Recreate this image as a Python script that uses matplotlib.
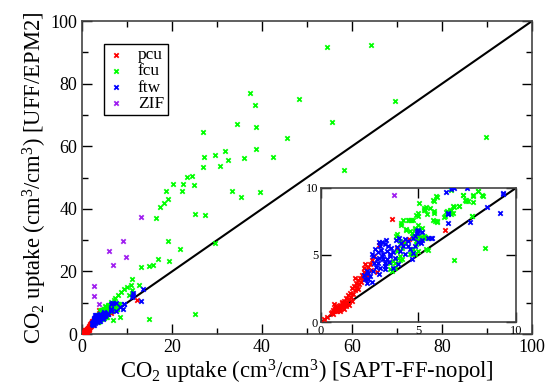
import numpy as np
import matplotlib
matplotlib.use("Agg")
import matplotlib.pyplot as plt
from matplotlib.ticker import MultipleLocator

plt.rcParams['font.family'] = ['Liberation Serif', 'DejaVu Serif']
plt.rcParams['mathtext.fontset'] = 'custom'
plt.rcParams['mathtext.rm'] = 'Liberation Serif'
plt.rcParams['mathtext.default'] = 'regular'

# pcu (red)
pcu_x = [0.5, 0.55, 0.6, 0.65, 0.7, 0.75, 0.8, 0.85, 0.9, 0.95, 1.0, 1.05, 1.1, 0.7, 0.9,
         1.15, 1.2, 1.25, 1.3, 1.35, 1.4, 1.45, 1.5, 1.55, 1.6, 1.65, 1.7, 1.75, 1.8, 1.85,
         1.9, 1.95, 2.0, 2.05, 2.1, 2.15, 2.2, 2.25, 2.3, 2.35, 2.4, 2.5, 2.6, 2.7, 2.55,
         1.45, 1.6, 1.2, 1.9, 2.85, 2.99, 3.66, 1.0, 0.6, 6.36, 12.2, 4.5, 3.9, 4.2,
         0.8, 1.1, 1.3, 0.65, 1.75, 2.2, 0.3, 0.15]
pcu_y = [0.65, 0.75, 0.9, 0.8, 1.0, 0.85, 1.1, 0.95, 1.2, 1.0, 1.3, 1.1, 1.4, 1.2, 0.9,
         1.2, 1.6, 1.35, 1.8, 1.5, 2.0, 1.7, 2.2, 1.9, 2.5, 2.1, 2.7, 2.4, 2.9, 2.6,
         3.1, 2.8, 3.3, 3.0, 3.5, 3.2, 3.7, 4.3, 3.9, 3.5, 4.1, 4.3, 4.6, 4.9, 3.9,
         1.25, 1.6, 1.0, 2.45, 3.75, 5.77, 7.7, 0.8, 0.6, 6.84, 11.0, 6.2, 5.5, 6.0,
         0.8, 1.5, 1.2, 1.35, 3.3, 4.0, 0.4, 0.2]

# fcu (green)
fcu_x = [54.5, 64.2, 37.4, 48.2, 38.4, 69.6, 34.4, 38.6, 55.5, 26.8, 45.6, 38.7, 31.8, 29.6,
         27.0, 36.1, 42.4, 32.4, 30.7, 26.9, 89.7, 58.3, 24.4, 23.3, 20.2, 22.4, 24.8, 18.7,
         22.2, 33.3, 39.5, 35.3, 19.0, 18.2, 17.3, 25.1, 27.3, 16.5, 19.0, 29.5, 21.8, 16.9,
         19.3, 13.1, 14.8, 15.7, 11.1, 12.7, 10.9, 25.0, 14.8, 10.1, 9.4, 8.7, 8.1, 7.3,
         7.0, 6.5, 10.5, 11.0,
         5.03, 5.28, 5.33, 5.57, 5.44, 5.79, 4.95, 5.79, 5.93, 6.36, 6.29, 6.46, 6.63, 6.8,
         6.77, 6.67, 7.09, 7.3, 7.81, 8.07, 8.29, 7.42, 7.52, 7.81, 7.76, 5.85, 5.93, 4.99,
         5.19, 4.99, 5.19, 5.33, 4.82, 4.9, 4.96, 4.87, 5.47, 8.41, 6.84, 4.85, 4.7, 4.6,
         4.48, 4.1, 4.34, 3.86, 4.82, 4.65, 4.74, 4.91, 4.14, 4.31, 4.65, 3.54, 3.71, 3.79,
         3.97, 4.14, 4.05, 3.62, 3.79, 3.54, 4.65, 4.82, 4.96, 5.92, 6.68, 7.28, 7.79, 8.04,
         8.27, 7.45, 7.37, 7.74, 7.07, 6.77, 6.68, 6.43, 5.75, 5.41, 5.27, 4.98, 5.78, 5.75,
         5.95, 4.08, 4.2, 4.52, 4.64, 4.81, 5.07, 4.59, 4.35, 3.88, 4.05, 3.88, 4.05, 4.56,
         4.73, 5.41, 4.93, 5.27, 5.15, 5.37]
fcu_y = [91.6, 92.4, 77.0, 75.1, 73.2, 74.5, 67.2, 66.1, 67.6, 64.6, 62.7, 59.1, 58.5, 57.1,
         56.5, 56.2, 56.7, 55.5, 53.8, 53.4, 63.0, 52.4, 50.6, 50.3, 47.9, 48.0, 47.7, 45.7,
         45.7, 45.8, 45.4, 43.9, 43.1, 41.9, 40.7, 38.4, 37.9, 37.2, 29.8, 29.0, 27.1, 23.9,
         23.4, 21.5, 21.8, 22.1, 17.7, 15.8, 15.6, 6.4, 4.9, 15.1, 14.3, 13.5, 12.5, 11.6,
         10.9, 10.3, 12.5, 14.0,
         8.88, 8.5, 8.33, 8.48, 8.06, 8.13, 7.9, 9.05, 9.33, 7.93, 7.81, 8.26, 8.38, 8.56,
         8.13, 8.06, 8.68, 9.48, 9.38, 9.75, 9.43, 9.13, 9.05, 8.93, 7.93, 7.51, 7.44, 7.26,
         7.0, 6.4, 6.32, 6.32, 6.27, 6.14, 5.97, 5.8, 5.4, 5.52, 4.6, 7.98, 7.59, 7.59,
         7.59, 7.26, 6.97, 6.44, 6.92, 6.67, 6.42, 6.04, 5.55, 5.92, 5.42, 4.43, 4.55, 4.43,
         4.8, 4.68, 4.93, 3.81, 4.05, 3.93, 5.05, 5.05, 5.3, 9.38, 9.88, 9.5, 9.5, 9.75,
         9.48, 9.0, 9.08, 7.89, 8.68, 8.68, 8.39, 8.19, 9.13, 8.59, 8.39, 8.14, 8.26, 7.59,
         7.52, 7.39, 7.64, 7.59, 7.59, 7.02, 6.9, 6.77, 6.9, 6.53, 6.03, 5.29, 4.66, 5.04,
         5.41, 5.41, 6.0, 6.4, 6.28, 6.28]

# ftw (blue)
ftw_x = [2.6, 2.77, 3.03, 3.28, 3.45, 2.85, 3.11, 3.37, 3.54, 3.28, 3.03, 2.43, 2.26, 2.34,
         2.51, 2.68, 3.28, 3.79, 4.05, 4.22, 4.48, 4.74, 4.91, 4.31, 4.56, 3.97, 4.81, 4.9,
         5.0, 5.2, 5.5, 4.73, 4.69, 6.51, 6.51, 6.43, 6.68, 6.8, 7.47, 7.65, 8.5, 9.2,
         9.32, 3.67, 2.98, 2.35, 5.67, 5.11, 4.96, 5.16, 4.82, 11.3, 11.4, 13.6, 11.2, 13.0,
         2.9, 3.1, 3.2, 3.0, 2.7, 3.4, 3.6, 3.5, 3.7, 3.9, 4.1, 2.95, 3.15, 3.35, 2.2, 2.4,
         2.6, 2.8, 2.65, 3.85, 4.0, 4.3, 4.45, 3.3, 3.55, 2.9, 3.2, 6.53, 9.35, 5.66]
ftw_y = [5.05, 5.42, 5.67, 5.8, 5.67, 4.68, 4.93, 4.68, 5.05, 4.18, 4.05, 3.68, 3.18, 2.94,
         3.43, 3.81, 3.93, 4.8, 5.3, 5.67, 6.04, 6.29, 6.67, 5.05, 5.42, 4.3, 6.4, 6.77,
         6.0, 6.1, 6.3, 5.16, 4.71, 8.14, 7.39, 9.68, 9.93, 10.0, 10.0, 7.44, 8.59, 8.14,
         9.63, 4.04, 3.55, 3.8, 6.27, 5.9, 6.9, 6.7, 5.65, 13.2, 12.5, 14.4, 11.9, 10.5,
         5.2, 5.4, 5.1, 4.8, 4.4, 5.3, 5.5, 4.5, 5.2, 5.6, 5.9, 5.95, 6.0, 6.1, 3.5, 3.2,
         3.0, 4.1, 4.9, 6.1, 6.3, 6.2, 5.7, 4.4, 4.9, 4.4, 4.7, 8.06, 9.58, 6.28]

# ZIF (purple)
zif_x = [3.74, 2.7, 2.6, 6.1, 9.1, 9.8, 6.8, 13.1]
zif_y = [9.46, 15.2, 12.2, 26.4, 29.7, 24.6, 22.1, 37.3]

sets = [(pcu_x, pcu_y, '#ff0000', 'pcu'),
        (fcu_x, fcu_y, '#00ff00', 'fcu'),
        (ftw_x, ftw_y, '#0000ff', 'ftw'),
        (zif_x, zif_y, '#a020f0', 'ZIF')]

fig = plt.figure(figsize=(5.47, 3.88), dpi=100)
ax = fig.add_axes([0.150, 0.139, 0.8226, 0.8067])

for xs, ys, c, lab in sets:
    ax.scatter(xs, ys, marker='x', s=10, linewidths=1.3, c=c, label=lab, zorder=3)
ax.plot([0, 100], [0, 100], color='black', lw=1.5, zorder=2)

ax.set_xlim(0, 100)
ax.set_ylim(0, 100)
ax.xaxis.set_major_locator(MultipleLocator(20))
ax.yaxis.set_major_locator(MultipleLocator(20))
ax.xaxis.set_minor_locator(MultipleLocator(10))
ax.yaxis.set_minor_locator(MultipleLocator(10))
ax.tick_params(which='both', direction='in', top=True, right=True, labelsize=13, width=1)
ax.tick_params(which='major', length=7)
ax.tick_params(which='minor', length=4)
for sp in ax.spines.values():
    sp.set_linewidth(1.2)
    sp.set_color('#444444')

ax.set_xlabel(r'CO$_2$ uptake (cm$^3$/cm$^3$) [SAPT-FF-nopol]', fontsize=16.3, labelpad=1)
ax.set_ylabel(r'CO$_2$ uptake (cm$^3$/cm$^3$) [UFF/EPM2]', fontsize=16.3, labelpad=1)

leg = ax.legend(loc='upper left', bbox_to_anchor=(0.049, 0.928), borderaxespad=0,
                fontsize=12.5, frameon=True, fancybox=False, framealpha=1,
                edgecolor='black', handlelength=1.0, handletextpad=0.75,
                labelspacing=0.0, borderpad=0.2, scatterpoints=1, markerscale=1.0)
leg.get_frame().set_linewidth(1.0)

# inset
ins = fig.add_axes([0.5868, 0.1701, 0.3565, 0.3454])
for xs, ys, c, lab in sets:
    ins.scatter(xs, ys, marker='x', s=10, linewidths=1.3, c=c, zorder=3)
ins.plot([0, 10], [0, 10], color='black', lw=1.5, zorder=2)
ins.set_xlim(0, 10)
ins.set_ylim(0, 10)
ins.xaxis.set_major_locator(MultipleLocator(5))
ins.yaxis.set_major_locator(MultipleLocator(5))
ins.tick_params(direction='in', top=True, right=True, labelsize=9, length=7, width=1, pad=2)
for sp in ins.spines.values():
    sp.set_linewidth(1.2)
    sp.set_color('#444444')

fig.savefig('out.png', dpi=100)
